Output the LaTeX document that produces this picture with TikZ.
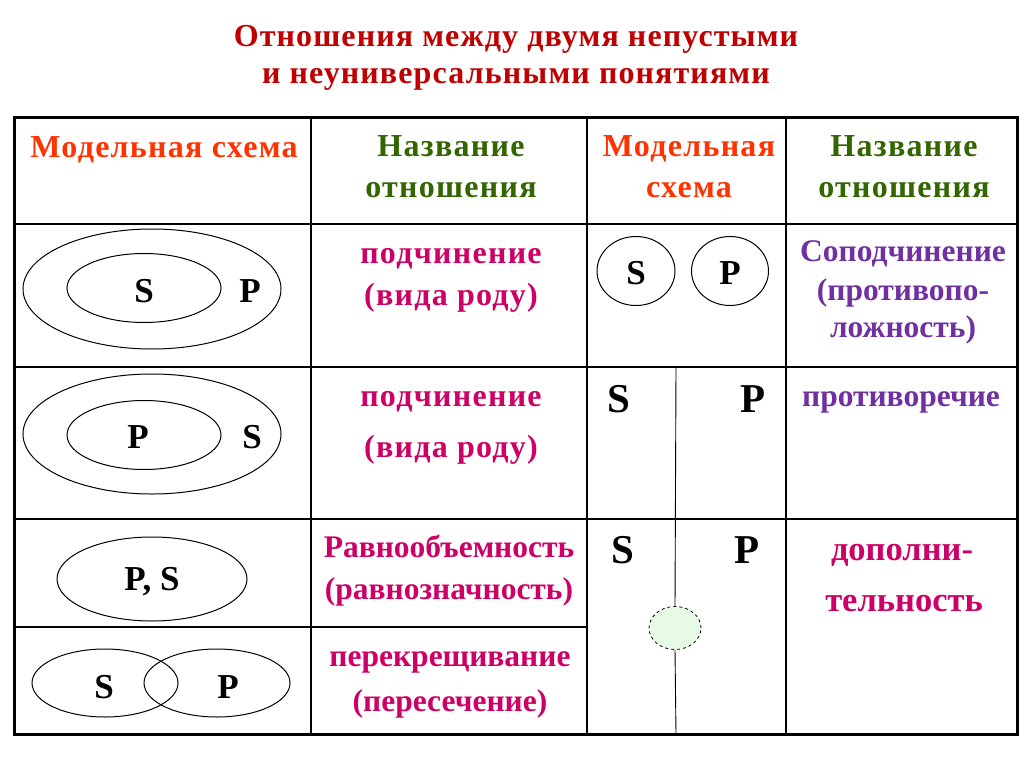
\documentclass[tikz,border=0pt]{standalone}
\usepackage{fontspec}
\setmainfont{Liberation Serif}
\usetikzlibrary{shapes.geometric}
\definecolor{titlered}{HTML}{C00000}
\definecolor{headred}{HTML}{FF3300}
\definecolor{headgreen}{HTML}{336600}
\definecolor{bodymag}{HTML}{CC0066}
\definecolor{bodypurple}{HTML}{7030A0}
\definecolor{circfill}{HTML}{E6FAE6}
\tikzset{
  titletext/.style={font=\bfseries\fontsize{32}{36}\selectfont\addfontfeature{LetterSpace=3.5}, text=titlered, anchor=base, inner sep=0pt},
  headtext/.style={font=\bfseries\fontsize{32}{40}\selectfont\addfontfeature{LetterSpace=4}, anchor=base, inner sep=0pt},
  bodytext/.style={font=\bfseries\fontsize{31.5}{36}\selectfont, anchor=base, inner sep=0pt},
  widetext/.style={font=\bfseries\fontsize{32}{36}\selectfont\addfontfeature{LetterSpace=4}, anchor=base, inner sep=0pt},
  largetext/.style={font=\bfseries\fontsize{34.5}{40}\selectfont, anchor=base, inner sep=0pt},
  letter/.style={font=\bfseries\fontsize{35}{40}\selectfont, anchor=base, inner sep=0pt},
  bigletter/.style={font=\bfseries\fontsize{41}{44}\selectfont, anchor=base, inner sep=0pt},
  oval/.style={draw, ellipse, line width=1pt, inner sep=0pt},
  outerframe/.style={line width=3pt},
  gridline/.style={line width=1.5pt},
  thinline/.style={line width=0.9pt},
}
\begin{document}
\begin{tikzpicture}[x=1pt,y=-1pt]
\useasboundingbox[fill=white] (0,0) rectangle (1024,767);
% title
\node[titletext] (t1) at (516,47) {Отношения между двумя непустыми};
\node[titletext] (t2) at (516,84) {и неуниверсальными понятиями};
% grid
\draw[gridline] (14,224) -- (1017,224);
\draw[gridline] (14,367) -- (1017,367);
\draw[gridline] (14,519) -- (1017,519);
\draw[gridline] (14,627) -- (587,627);
\draw[gridline] (311,118) -- (311,734);
\draw[gridline] (587,118) -- (587,734);
\draw[gridline] (786,118) -- (786,734);
\draw[outerframe] (14,118) rectangle (1017,734);
% header
\node[headtext, text=headred] (h1) at (164,158) {Модельная схема};
\node[headtext, text=headgreen] (h2a) at (451,157) {Название};
\node[headtext, text=headgreen] (h2b) at (451,198) {отношения};
\node[headtext, text=headred] (h3a) at (689,157) {Модельная};
\node[headtext, text=headred] (h3b) at (689,198) {схема};
\node[headtext, text=headgreen] (h4a) at (904,157) {Название};
\node[headtext, text=headgreen] (h4b) at (904,198) {отношения};
% row 1 col 1
\node[oval, minimum width=258pt, minimum height=120pt] (r1o) at (152,289) {};
\node[oval, minimum width=154pt, minimum height=69pt] (r1i) at (144,288) {};
\node[letter] (r1s) at (144,302) {S};
\node[letter] (r1p) at (250,302) {P};
% row 2 col 1
\node[oval, minimum width=258pt, minimum height=120pt] (r2o) at (152,434) {};
\node[oval, minimum width=154pt, minimum height=69pt] (r2i) at (144,435) {};
\node[letter] (r2p) at (138,448) {P};
\node[letter] (r2s) at (252,448) {S};
% row 3 col 1
\node[oval, minimum width=190pt, minimum height=84pt] (r3o) at (152,579) {};
\node[letter] (r3ps) at (152,590) {P, S};
% row 4 col 1
\node[oval, minimum width=146pt, minimum height=68pt] (r4l) at (105,683) {};
\node[oval, minimum width=146pt, minimum height=68pt] (r4r) at (217,683) {};
\node[letter] (r4s) at (104,698) {S};
\node[letter] (r4p) at (228,698) {P};
% col 2 texts
\node[widetext, text=bodymag] (n1a) at (451,263) {подчинение};
\node[widetext, text=bodymag] (n1b) at (451,305) {(вида роду)};
\node[widetext, text=bodymag] (n2a) at (451,406) {подчинение};
\node[widetext, text=bodymag] (n2b) at (451,457) {(вида роду)};
\node[bodytext, text=bodymag] (n3a) at (449,557) {Равнообъемность};
\node[bodytext, text=bodymag] (n3b) at (449,599) {(равнозначность)};
\node[bodytext, text=bodymag] (n4a) at (450,666) {перекрещивание};
\node[bodytext, text=bodymag] (n4b) at (450,711) {(пересечение)};
% col 3 row 1
\node[oval, minimum width=78pt, minimum height=69pt] (c1s) at (636,271) {};
\node[oval, minimum width=77pt, minimum height=69pt] (c1p) at (730,271) {};
\node[letter] (c1sl) at (636,284) {S};
\node[letter] (c1pl) at (730,284) {P};
% col 3 rows 2-3
\node[bigletter] (c2s) at (619,412) {S};
\node[bigletter] (c2p) at (753,412) {P};
\node[bigletter] (c3s) at (623,563) {S};
\node[bigletter] (c3p) at (747,563) {P};
\coordinate (vtop) at (676,367);
\coordinate (vbot) at (676,734);
\node[draw, dashed, ellipse, fill=circfill, line width=0.8pt, minimum width=52pt, minimum height=43pt, inner sep=0pt] (gap) at (675,628) {};
\draw[thinline] (vtop) -- (gap.north);
\draw[thinline] (gap.south) -- (vbot);
% col 4 texts
\node[bodytext, text=bodypurple] (m1a) at (903,261) {Соподчинение};
\node[bodytext, text=bodypurple] (m1b) at (903,300) {(противопо-};
\node[bodytext, text=bodypurple] (m1c) at (903,337) {ложность)};
\node[bodytext, text=bodypurple] (m2) at (901,406) {противоречие};
\node[largetext, text=bodymag] (m3a) at (902,560) {дополни-};
\node[largetext, text=bodymag] (m3b) at (904,611) {тельность};
\end{tikzpicture}
\end{document}
